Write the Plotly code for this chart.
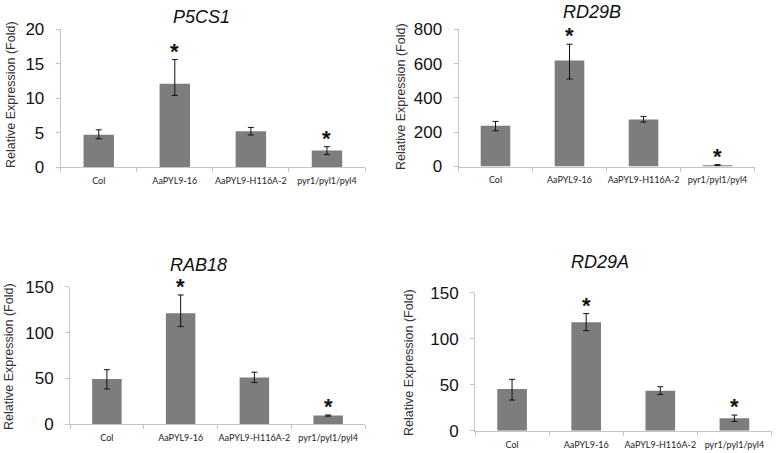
import plotly.graph_objects as go

categories = ["Col", "AaPYL9-16", "AaPYL9-H116A-2", "pyr1/pyl1/pyl4"]

genes = ["P5CS1", "RD29B", "RAB18", "RD29A"]

p5cs1_values = [4.7, 12.1, 5.2, 2.4]
p5cs1_err_plus = [0.7, 3.5, 0.55, 0.55]
p5cs1_err_minus = [0.6, 1.7, 0.55, 0.6]

rd29b_values = [238, 618, 274, 8]
rd29b_err_plus = [25, 95, 18, 3]
rd29b_err_minus = [30, 108, 15, 3]

rab18_values = [49.5, 121, 51, 9.5]
rab18_err_plus = [10, 20, 5.8, 0.6]
rab18_err_minus = [11, 14.5, 5.5, 0.6]

rd29a_values = [45.3, 117.8, 43.5, 13.5]
rd29a_err_plus = [10.5, 9.5, 4.3, 3.5]
rd29a_err_minus = [12, 9, 4, 3.5]

y_ranges = [[0, 20], [0, 800], [0, 150], [0, 150]]
y_dtick = [5, 200, 50, 50]
significant = [[False, True, False, True]] * 4

W, H = 776, 453

# panel geometry in pixels: (x0, x1, y_zero, y_top)
panels = [
    (60.7, 365.0, 167.0, 29.3),
    (458.5, 754.5, 166.5, 29.3),
    (70.0, 365.0, 424.3, 286.7),
    (475.0, 771.5, 430.7, 292.7),
]
title_pos = [(201.7, 16.7), (591.7, 11.7), (198.0, 264.5), (600.0, 261.7)]
ytitle_pos = [(11, 95), (401, 97), (9, 357), (409, 363)]

data_sets = [
    (p5cs1_values, p5cs1_err_plus, p5cs1_err_minus),
    (rd29b_values, rd29b_err_plus, rd29b_err_minus),
    (rab18_values, rab18_err_plus, rab18_err_minus),
    (rd29a_values, rd29a_err_plus, rd29a_err_minus),
]

fig = go.Figure()
annotations = []
layout = {}
for i, ((vals, ep, em), (x0, x1, yz, yt)) in enumerate(zip(data_sets, panels)):
    n = "" if i == 0 else str(i + 1)
    fig.add_trace(go.Bar(
        x=categories, y=vals, width=0.4,
        marker=dict(color="#7d7d7d", line=dict(width=0)),
        error_y=dict(type="data", symmetric=False, array=ep, arrayminus=em,
                     color="#111111", thickness=1, width=3),
        xaxis="x" + n, yaxis="y" + n, showlegend=False, hoverinfo="skip",
    ))
    layout["xaxis" + n] = dict(
        domain=[x0 / W, x1 / W], anchor="y" + n, type="category",
        range=[-0.5, 3.5], showline=True, linecolor="#c4c4c4", linewidth=1,
        ticks="outside", tickson="boundaries", ticklen=4, tickcolor="#c4c4c4",
        tickfont=dict(family="Lato", size=9, color="#222222"),
        tickangle=0, automargin=False, ticklabelstandoff=5,
        showgrid=False, zeroline=False, fixedrange=True,
    )
    layout["yaxis" + n] = dict(
        domain=[1 - yz / H, 1 - yt / H], anchor="x" + n,
        range=y_ranges[i], dtick=y_dtick[i], showline=True,
        linecolor="#c4c4c4", linewidth=1, ticks="outside", ticklen=4,
        tickcolor="#c4c4c4", showgrid=False, zeroline=False,
        tickfont=dict(family="Liberation Sans", size=17, color="#111111"),
        ticklabelstandoff=8, automargin=False, fixedrange=True,
    )
    tx, ty = title_pos[i]
    annotations.append(dict(
        text="<i>" + genes[i] + "</i>", x=tx / W, y=1 - ty / H, xref="paper", yref="paper",
        xanchor="center", yanchor="middle", showarrow=False,
        font=dict(family="Liberation Sans", size=18, color="#111111"),
    ))
    ax, ay = ytitle_pos[i]
    annotations.append(dict(
        text="Relative Expression (Fold)", x=ax / W, y=1 - ay / H, xref="paper", yref="paper",
        xanchor="center", yanchor="middle", textangle=-90, showarrow=False,
        font=dict(family="Liberation Sans", size=12.5, color="#333333"),
    ))
    for j, sig in enumerate(significant[i]):
        if sig:
            annotations.append(dict(
                text="<b>*</b>", x=categories[j], y=vals[j] + ep[j],
                xref="x" + n, yref="y" + n, xanchor="center", yanchor="bottom",
                yshift=-6, showarrow=False,
                font=dict(family="Liberation Sans", size=22, color="#111111"),
            ))

fig.update_layout(
    width=W, height=H, margin=dict(l=0, r=0, t=0, b=0, autoexpand=False),
    paper_bgcolor="white", plot_bgcolor="white",
    annotations=annotations, bargap=0.6, **layout,
)
fig.write_html(
    "out.html",
    config={"displayModeBar": False, "staticPlot": True},
    post_script="document.body.style.margin='0';document.body.style.overflow='hidden';",
)
